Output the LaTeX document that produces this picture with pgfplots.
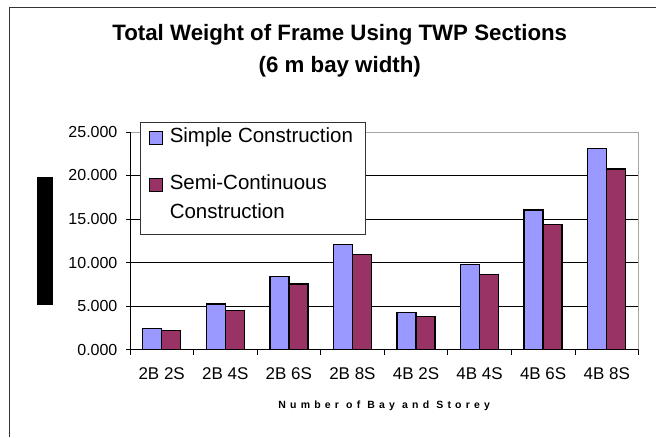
\documentclass[border=0pt]{standalone}
\usepackage{fontspec}
\setmainfont{Liberation Sans}
\newfontfamily\spaced[LetterSpace=40]{Liberation Sans}
\usepackage{pgfplots}
\pgfplotsset{compat=1.18}
\definecolor{simplec}{HTML}{9999FF}
\definecolor{semic}{HTML}{993366}
\begin{document}
\begin{tikzpicture}[x=1pt,y=1pt]
\path (0,0) rectangle (656,437);
\draw[line width=1pt, black!80] (10,0) -- (10,429) -- (656,429);
\node[font=\bfseries\fontsize{22.3}{26}\selectfont] at (340,402) {Total Weight of Frame Using TWP Sections};
\node[font=\bfseries\fontsize{22.3}{26}\selectfont] at (340,370) {(6 m bay width)};
\fill[black] (37,132) rectangle (53,260);
\begin{axis}[
  at={(130pt,87pt)}, anchor=south west,
  width=509pt, height=218pt, scale only axis,
  ybar=0pt, bar width=19pt,
  xmin=-0.5, xmax=7.5, ymin=0, ymax=25,
  ytick={0,5,...,25},
  xtick={0,...,7},
  xticklabels={2B 2S,2B 4S,2B 6S,2B 8S,4B 2S,4B 4S,4B 6S,4B 8S},
  minor xtick={-0.5,0.5,...,7.5},
  tick pos=left,
  tick align=outside,
  major tick length=4pt, minor tick length=5pt,
  major x tick style={draw=none},
  tick style={black, line width=0.8pt},
  ymajorgrids, grid style={black, line width=0.8pt},
  axis line style={draw=gray!70, line width=0.8pt},
  yticklabel style={font=\fontsize{16}{19}\selectfont, xshift=-5pt},
  xticklabel style={font=\fontsize{17}{19}\selectfont, yshift=-10pt},
  /pgf/number format/fixed, /pgf/number format/fixed zerofill,
  /pgf/number format/precision=3, /pgf/number format/assume math mode=true,
  xlabel={Number of Bay and Storey},
  xlabel style={font=\spaced\bfseries\fontsize{10.5}{12}\selectfont, yshift=-15pt},
  legend image code/.code={\draw[#1, line width=1pt] (0pt,-2pt) rectangle (13pt,11pt);},
  legend style={at={(axis description cs:0.0196,1.046)}, anchor=north west,
    draw=black!80, line width=0.8pt, fill=white,
    font=\fontsize{20.5}{25}\selectfont, row sep=0pt, column sep=3pt,
    inner xsep=9pt, inner ysep=0pt,
    cells={anchor=base west},
    nodes={inner ysep=0pt, inner xsep=3.5pt, text height=, text depth=}},
]
\addplot[fill=simplec, draw=black, line width=1.5pt] coordinates {
 (0,2.45) (1,5.23) (2,8.42) (3,12.07) (4,4.27) (5,9.77) (6,16.03) (7,23.07)};
\addplot[fill=semic, draw=black, line width=1.5pt] coordinates {
 (0,2.23) (1,4.53) (2,7.53) (3,10.92) (4,3.81) (5,8.65) (6,14.38) (7,20.76)};
\addlegendimage{empty legend}
\legend{\rule[-10pt]{0pt}{30pt}Simple Construction,
        \rule[-8pt]{0pt}{45.5pt}Semi-Continuous,
        \rule[-16pt]{0pt}{36.5pt}Construction}
\draw[black, line width=0.8pt] (rel axis cs:0,1) -- (rel axis cs:0,0) -- (rel axis cs:1,0);
\end{axis}
\end{tikzpicture}
\end{document}
